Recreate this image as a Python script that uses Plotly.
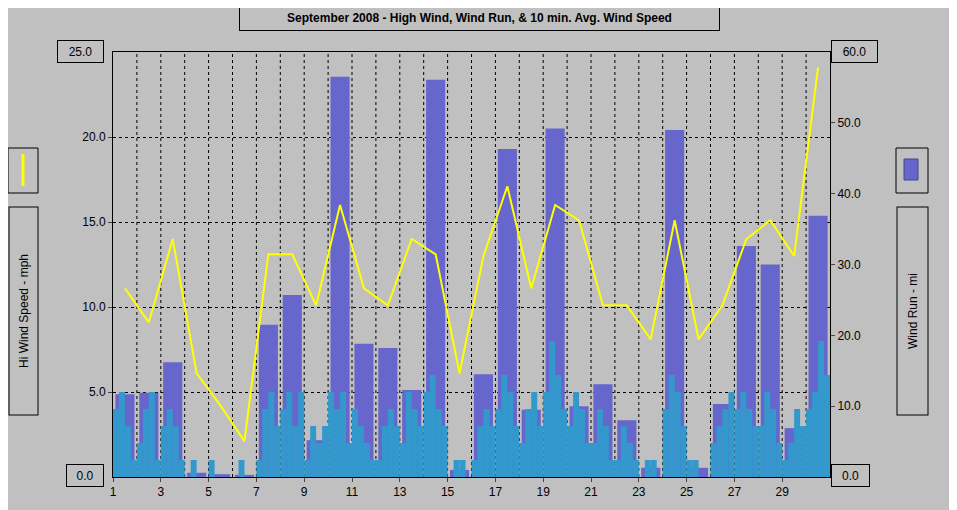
import plotly.graph_objects as go

days = list(range(1, 31))
# daily wind run (mi)
wind_run = [11.7, 11.9, 16.2, 0.6, 0.4, 0.3, 21.5, 25.7, 5.2, 56.5, 18.8, 18.2, 12.3, 56.1, 1.0,
            14.5, 46.3, 9.5, 49.2, 10.0, 13.1, 8.0, 1.3, 49.0, 1.3, 10.3, 32.6, 30.0, 6.9, 36.9]
# daily high wind (mph)
hi_wind = [11.1, 9.1, 14.0, 6.1, 4.2, 2.1, 13.1, 13.1, 10.1, 16.0, 11.1, 10.1, 14.0, 13.1, 6.1,
           13.0, 17.1, 11.1, 16.0, 15.1, 10.1, 10.1, 8.1, 15.1, 8.1, 10.1, 14.0, 15.1, 13.0, 24.1]
# 10 min. avg wind speed (mph), 4 readings per day
avg_wind = [
    [4, 5, 3, 1], [2, 4, 5, 1], [3, 4, 3, 1], [0, 1, 0, 0], [1, 0, 0, 0],
    [0, 1, 0, 0], [1, 4, 5, 3], [4, 5, 3, 5], [1, 3, 2, 3], [5, 4, 5, 2],
    [4, 3, 2, 1], [1, 3, 4, 3], [2, 5, 4, 3], [5, 6, 4, 3], [0, 1, 1, 0],
    [1, 3, 4, 3], [4, 6, 5, 3], [2, 4, 5, 3], [5, 8, 6, 4], [3, 5, 4, 2],
    [2, 4, 3, 1], [1, 3, 2, 1], [0, 1, 1, 0], [4, 6, 5, 3], [1, 1, 0, 0],
    [2, 3, 4, 5], [4, 5, 4, 3], [3, 5, 4, 2], [1, 2, 4, 3], [4, 5, 8, 6],
]
mph_ticks = [5, 10, 15, 20]
mi_ticks = [10, 20, 30, 40, 50]

avg_x, avg_y = [], []
for d, vals in zip(days, avg_wind):
    for i, v in enumerate(vals):
        avg_x.append(d + (i + 0.5) / len(vals))
        avg_y.append(v)

fig = go.Figure()
fig.add_trace(go.Bar(x=[d + 0.5 for d in days], y=wind_run, width=0.8, yaxis="y",
                     marker=dict(color="#6666cc", line=dict(width=0)), name="Wind Run"))
fig.add_trace(go.Bar(x=avg_x, y=avg_y, width=0.25, yaxis="y2",
                     marker=dict(color="#3399cc", line=dict(width=0)), name="10 min Avg"))
fig.add_trace(go.Scatter(x=[d + 0.5 for d in days], y=hi_wind, yaxis="y2", mode="lines",
                         line=dict(color="#ffff00", width=2), name="Hi Wind"))

font = dict(family="Liberation Sans", size=12, color="black")

# page body adds an 8px offset, so margins are shifted to compensate
fig.update_layout(
    width=957, height=510, showlegend=False, barmode="overlay",
    paper_bgcolor="#c0c0c0", plot_bgcolor="#c0c0c0", font=font,
    margin=dict(l=105, r=135, t=44, b=41),
    xaxis=dict(range=[1, 31], tickvals=list(range(1, 31, 2)), ticks="outside", ticklen=4,
               showgrid=False, showline=True, linecolor="black", mirror=True, zeroline=False),
    yaxis=dict(range=[0, 60], side="right", tickvals=mi_ticks, tickformat=".1f",
               ticks="outside", ticklen=4, showgrid=False, showline=True, linecolor="black",
               zeroline=False,
               minor=dict(tickvals=[v * 60 / 25 for v in mph_ticks], showgrid=True,
                          gridcolor="black", griddash="dot", gridwidth=1, ticklen=0)),
    yaxis2=dict(range=[0, 25], side="left", overlaying="y", tickvals=mph_ticks,
                tickformat=".1f", ticks="outside", ticklen=4, showgrid=False,
                showline=True, linecolor="black", zeroline=False),
)
for d in range(2, 31):
    fig.add_vline(x=d, line=dict(color="black", dash="dot", width=1), layer="below")

W, H, L, T = 717, 425, 113, 52
def px(x): return (x - L) / W
def py(y): return (T + H - y) / H

def label(x0, y0, x1, y1, text, angle=0):
    w, h = x1 - x0, y1 - y0
    if angle:
        w, h = h, w
    fig.add_annotation(xref="paper", yref="paper", x=px((x0 + x1) / 2), y=py((y0 + y1) / 2),
                       xanchor="center", yanchor="middle", text=text, showarrow=False,
                       textangle=angle, font=font, width=w - 2, height=h - 2,
                       bgcolor="#c0c0c0", bordercolor="black", borderwidth=1, borderpad=0)

label(239, 5, 720, 31, "<b>September 2008 - High Wind, Wind Run, & 10 min. Avg. Wind Speed</b>")
label(57, 40, 104, 63, "25.0")
label(66, 464, 104, 487, "0.0")
label(831, 40, 878, 63, "60.0")
label(831, 464, 870, 487, "0.0")
label(8, 207, 38, 416, "Hi Wind Speed - mph", angle=-90)
label(896, 207, 928, 416, "Wind Run - mi", angle=-90)
for x0, x1 in [(8, 38), (896, 928)]:
    fig.add_shape(type="rect", xref="paper", yref="paper", x0=px(x0), x1=px(x1),
                  y0=py(193), y1=py(148), line=dict(color="black", width=1))
fig.add_shape(type="line", xref="paper", yref="paper", x0=px(23), x1=px(23), y0=py(154),
              y1=py(186), line=dict(color="#ffff00", width=3))
fig.add_shape(type="rect", xref="paper", yref="paper", x0=px(904), x1=px(918), y0=py(180),
              y1=py(159), line=dict(color="#444488", width=1), fillcolor="#6666cc")

fig.write_html("out.html")
